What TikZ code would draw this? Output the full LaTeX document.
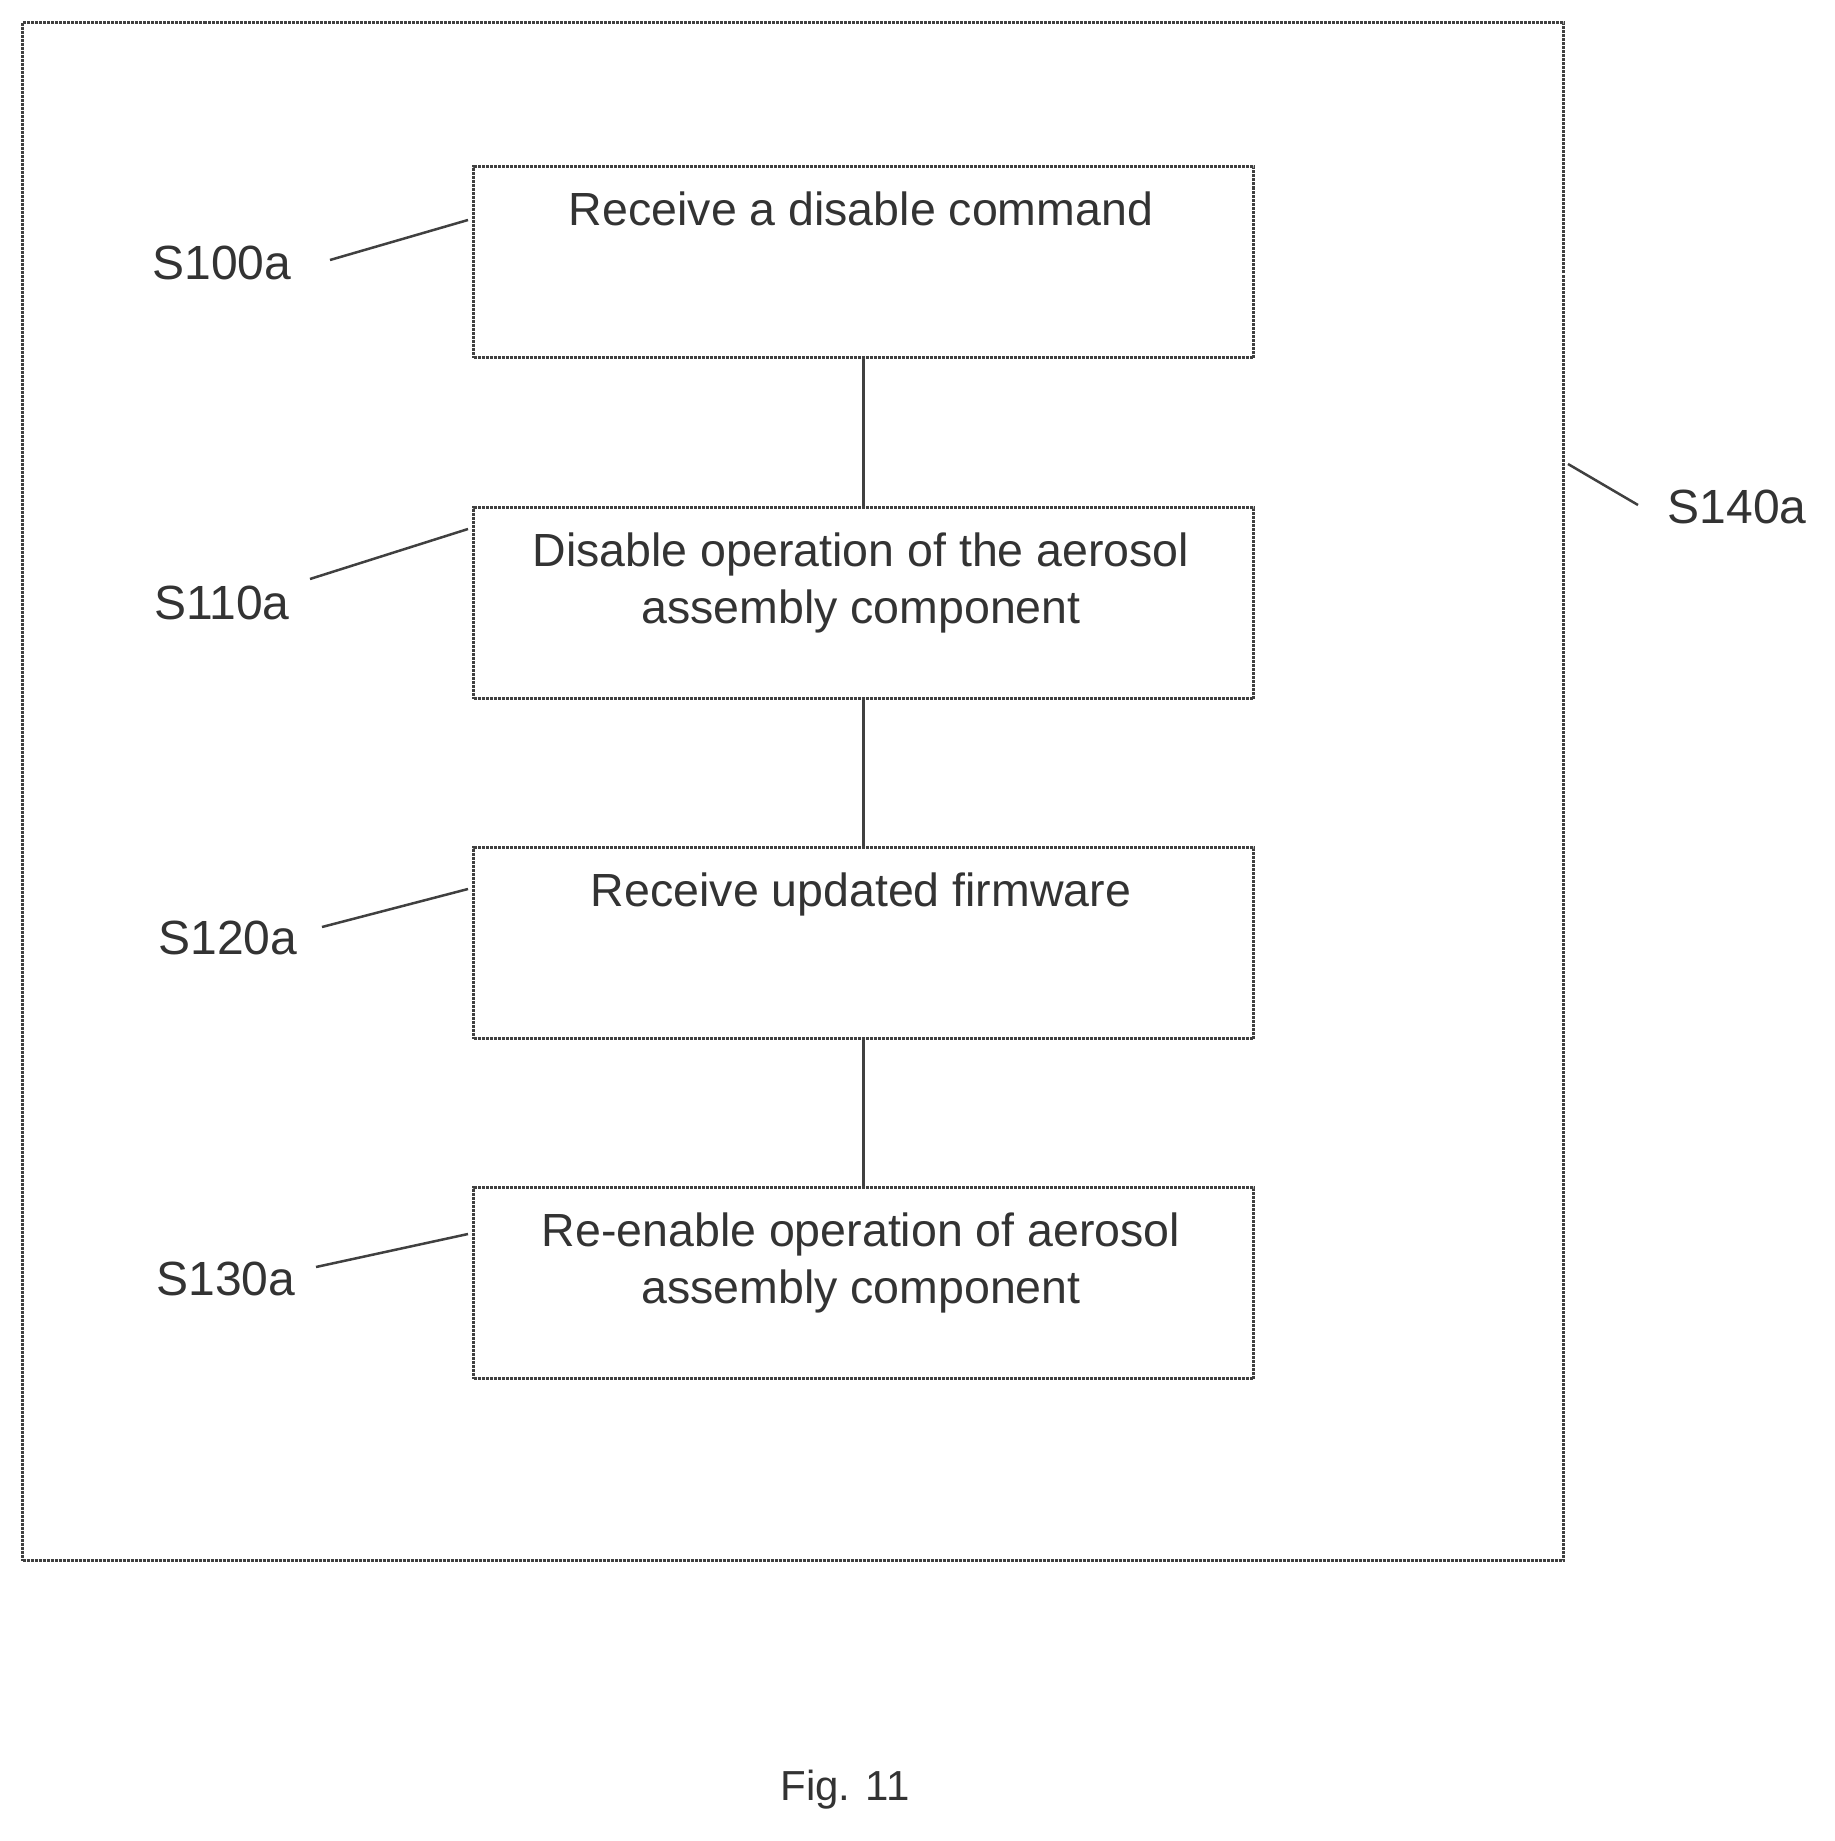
\documentclass[tikz,border=0pt]{standalone}
\usepackage{fontspec}
\setmainfont{Liberation Sans}
\begin{document}
\begin{tikzpicture}[x=1pt,y=-1pt,
  box/.style={draw=black!75,line width=3pt,densely dotted,minimum width=780pt,minimum height=191pt,anchor=north west,inner sep=0pt},
  txt/.style={font=\fontsize{46.5}{57}\selectfont,text=black!80,align=center,anchor=north},
  lab/.style={font=\fontsize{48}{54}\selectfont,text=black!80},
  lead/.style={draw=black!75,line width=2.5pt}]
\useasboundingbox (0,0) rectangle (1834,1841);
\node[draw=black!75,line width=3pt,densely dotted,minimum width=1541pt,minimum height=1538pt,anchor=north west,inner sep=0pt] (outer) at (21,21) {};
\node[box] (b1) at (472,165) {};
\node[box] (b2) at (472,506) {};
\node[box] (b3) at (472,846) {};
\node[box] (b4) at (472,1186) {};
\node[txt] (t1) at (861,188) {Receive a disable command};
\node[txt] (t2) at (861,529) {Disable operation of the aerosol\\assembly component};
\node[txt] (t3) at (861,869) {Receive updated firmware};
\node[txt] (t4) at (861,1209) {Re-enable operation of aerosol\\assembly component};
\draw[black!75,line width=2.5pt] (b1.south) -- (b2.north) (b2.south) -- (b3.north) (b3.south) -- (b4.north);
\node[lab] (l1) at (222,263) {S100a};
\node[lab] (l2) at (222,603) {S110a};
\node[lab] (l3) at (228,938) {S120a};
\node[lab] (l4) at (226,1279) {S130a};
\node[lab] (l5) at (1737,507) {S140a};
\coordinate (c1a) at (330,260); \coordinate (c1b) at (468,220);
\coordinate (c2a) at (310,579); \coordinate (c2b) at (468,529);
\coordinate (c3a) at (322,927); \coordinate (c3b) at (468,889);
\coordinate (c4a) at (316,1267); \coordinate (c4b) at (468,1234);
\coordinate (c5a) at (1568,464); \coordinate (c5b) at (1638,505);
\draw[lead] (c1a)--(c1b) (c2a)--(c2b) (c3a)--(c3b) (c4a)--(c4b) (c5a)--(c5b);
\node[lab,font=\fontsize{42}{48}\selectfont] (fig) at (845,1790) {Fig. 11};
\end{tikzpicture}
\end{document}
